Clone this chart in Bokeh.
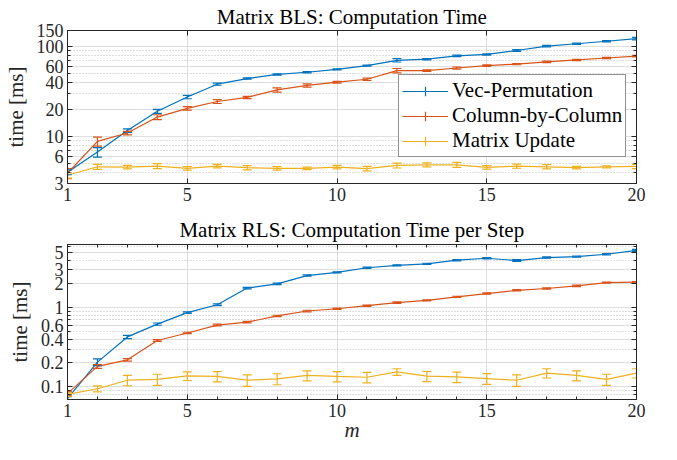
from bokeh.plotting import figure
from bokeh.models import (Range1d, FixedTicker, LogAxis, LinearAxis, Whisker, TeeHead,
                          ColumnDataSource, Legend, LegendItem, CustomJSTickFormatter)
from bokeh.layouts import column
from bokeh.embed import file_html
from bokeh.resources import INLINE

# ---------------- data ----------------
m = list(range(1, 21))

series_names = ["Vec-Permutation", "Column-by-Column", "Matrix Update"]
colors = ["#0072BD", "#D95319", "#EDB120"]

# Matrix BLS: computation time [ms]
bls_vec = [4.0, 6.7, 11.6, 19.0, 27.4, 38.0, 43.9, 48.8, 51.6, 55.6,
           61.0, 70.0, 72.0, 78.5, 81.3, 89.9, 100.5, 106.9, 114.0, 122.0]
bls_vec_err = [0.25, 0.8, 0.5, 1.0, 1.2, 1.0, 0.8, 0.8, 0.8, 0.8,
               0.9, 3.0, 1.2, 1.5, 1.2, 2.0, 2.0, 1.5, 1.8, 4.0]
bls_col = [3.9, 8.8, 10.9, 16.4, 20.5, 24.4, 27.1, 32.8, 36.8, 40.0,
           43.1, 53.8, 53.8, 57.5, 61.0, 63.5, 67.3, 70.6, 74.3, 78.0]
bls_col_err = [0.5, 1.0, 0.5, 1.0, 0.9, 1.2, 0.8, 1.8, 1.5, 0.9,
               1.2, 3.0, 1.2, 1.5, 1.2, 1.0, 1.2, 1.0, 1.2, 1.5]
bls_upd = [3.7, 4.6, 4.57, 4.68, 4.42, 4.68, 4.5, 4.42, 4.42, 4.57,
           4.39, 4.76, 4.84, 4.84, 4.53, 4.68, 4.6, 4.5, 4.6, 4.64]
bls_upd_err = [0.25, 0.3, 0.2, 0.3, 0.2, 0.2, 0.25, 0.2, 0.15, 0.2,
               0.25, 0.3, 0.25, 0.3, 0.2, 0.25, 0.25, 0.15, 0.12, 0.25]

# Matrix RLS: computation time per step [ms]
rls_vec = [0.071, 0.205, 0.427, 0.62, 0.867, 1.09, 1.77, 2.0, 2.55, 2.8,
           3.2, 3.43, 3.59, 3.99, 4.22, 3.95, 4.31, 4.43, 4.74, 5.31]
rls_vec_err = [0.004, 0.02, 0.02, 0.02, 0.02, 0.03, 0.04, 0.04, 0.05, 0.05,
               0.06, 0.06, 0.06, 0.08, 0.08, 0.1, 0.08, 0.08, 0.1, 0.15]
rls_col = [0.082, 0.181, 0.219, 0.385, 0.479, 0.603, 0.656, 0.787, 0.908, 0.97,
           1.06, 1.16, 1.24, 1.37, 1.51, 1.66, 1.75, 1.89, 2.08, 2.1]
rls_col_err = [0.005, 0.01, 0.008, 0.01, 0.01, 0.015, 0.015, 0.015, 0.02, 0.02,
               0.02, 0.025, 0.02, 0.025, 0.03, 0.03, 0.035, 0.04, 0.03, 0.04]
rls_upd = [0.08, 0.0944, 0.121, 0.124, 0.137, 0.135, 0.121, 0.126, 0.139, 0.135,
           0.132, 0.154, 0.136, 0.133, 0.127, 0.121, 0.149, 0.139, 0.124, 0.149]
rls_upd_err = [0.005, 0.008, 0.018, 0.02, 0.017, 0.02, 0.02, 0.02, 0.02, 0.02,
               0.02, 0.015, 0.02, 0.02, 0.02, 0.02, 0.02, 0.02, 0.02, 0.02]

x_ticks = [1, 5, 10, 15, 20]
bls_yticks = [3, 6, 10, 20, 40, 60, 100, 150]
bls_yminor = [4, 5, 7, 8, 9, 30, 50, 70, 80, 90]
rls_yticks = [0.1, 0.2, 0.4, 0.6, 1, 2, 3, 5]
rls_yminor = [0.07, 0.08, 0.09, 0.3, 0.5, 0.7, 0.8, 0.9, 4, 6]

FONT = "Liberation Serif"
AX = "#262626"

fmt = CustomJSTickFormatter(code="return tick.toString();")
empty_fmt = CustomJSTickFormatter(code="return '';")


def style_axis(ax, show_labels):
    ax.axis_line_color = AX
    ax.major_tick_line_color = AX
    ax.minor_tick_line_color = AX
    ax.major_tick_in = 5
    ax.major_tick_out = 0
    ax.minor_tick_in = 3
    ax.minor_tick_out = 0
    if show_labels:
        ax.major_label_text_font = FONT
        ax.major_label_text_font_size = "18px"
        ax.major_label_text_color = AX
        ax.major_label_standoff = 4
    else:
        ax.major_label_text_font_size = "0px"
        ax.major_label_standoff = 0
        ax.formatter = empty_fmt


def make_fig(title, height, top, bottom, yr, yticks, yminor, xminor, xlabel, tstandoff):
    p = figure(width=661, height=height, y_axis_type="log",
               x_range=Range1d(1, 20), y_range=Range1d(*yr),
               output_backend="svg", toolbar_location=None,
               min_border_left=66, min_border_right=25,
               min_border_top=top, min_border_bottom=bottom,
               title=title)
    p.title.text_font = FONT
    p.title.text_font_size = "21px"
    p.title.text_font_style = "normal"
    p.title.text_color = "black"
    p.title.align = "center"
    p.title.standoff = tstandoff
    p.outline_line_color = AX
    p.background_fill_color = "white"

    xt = FixedTicker(ticks=x_ticks, minor_ticks=xminor)
    yt = FixedTicker(ticks=yticks, minor_ticks=yminor)

    p.xaxis.ticker = xt
    p.yaxis.ticker = yt
    p.yaxis.formatter = fmt
    style_axis(p.xaxis[0], True)
    style_axis(p.yaxis[0], True)

    p.yaxis.axis_label = "time [ms]"
    p.yaxis.axis_label_text_font = FONT
    p.yaxis.axis_label_text_font_size = "21px"
    p.yaxis.axis_label_text_font_style = "normal"
    p.yaxis.axis_label_text_color = AX
    p.yaxis.axis_label_standoff = 6

    if xlabel:
        p.xaxis.axis_label = xlabel
        p.xaxis.axis_label_text_font = FONT
        p.xaxis.axis_label_text_font_size = "21px"
        p.xaxis.axis_label_text_font_style = "italic"
        p.xaxis.axis_label_text_color = AX
        p.xaxis.axis_label_standoff = -2

    ra = LogAxis(ticker=yt)
    style_axis(ra, False)
    p.add_layout(ra, "right")
    ta = LinearAxis(ticker=xt)
    style_axis(ta, False)
    p.add_layout(ta, "above")

    p.xgrid.grid_line_color = "#dedede"
    p.xgrid.grid_line_width = 1
    p.ygrid.grid_line_color = "#dedede"
    p.ygrid.grid_line_width = 1
    p.ygrid.minor_grid_line_color = "#bdbdbd"
    p.ygrid.minor_grid_line_dash = "1 2"
    p.ygrid.minor_grid_line_width = 1
    return p


def add_series(p, y, err, color):
    src = ColumnDataSource(dict(
        x=m, y=y,
        lo=[a - b for a, b in zip(y, err)],
        hi=[a + b for a, b in zip(y, err)]))
    w = Whisker(base="x", upper="hi", lower="lo", source=src,
                line_color=color, line_width=1.2, level="glyph",
                upper_head=TeeHead(size=9, line_color=color, line_width=1.2),
                lower_head=TeeHead(size=9, line_color=color, line_width=1.2))
    p.add_layout(w)
    r = p.line("x", "y", source=src, line_color=color, line_width=1.2)
    s = p.scatter("x", "y", source=src, marker="cross", size=0,
                  line_color=color, line_width=1.2)
    return r, s


p1 = make_fig("Matrix BLS: Computation Time", 212, 26, 29, (3, 150),
              bls_yticks, bls_yminor, [], None, 4)
items = []
for name, y, e, c in zip(series_names, [bls_vec, bls_col, bls_upd],
                         [bls_vec_err, bls_col_err, bls_upd_err], colors):
    r, s = add_series(p1, y, e, c)
    items.append(LegendItem(label=name, renderers=[r, s]))

legend = Legend(items=items, location=(331, 26), margin=0, padding=3, spacing=0,
                glyph_width=46, glyph_height=24, label_height=24,
                label_standoff=4,
                label_text_font=FONT, label_text_font_size="21px",
                label_text_color="black",
                border_line_color=AX, border_line_width=1,
                background_fill_color="white", background_fill_alpha=1)
p1.add_layout(legend)

p2 = make_fig("Matrix RLS: Computation Time per Step", 232, 31, 43, (0.069, 6.3),
              rls_yticks, rls_yminor, m, "m", 6)
for y, e, c in zip([rls_vec, rls_col, rls_upd],
                   [rls_vec_err, rls_col_err, rls_upd_err], colors):
    add_series(p2, y, e, c)

layout = column(p1, p2, spacing=0)
open("out.html", "w").write(file_html(layout, INLINE))
